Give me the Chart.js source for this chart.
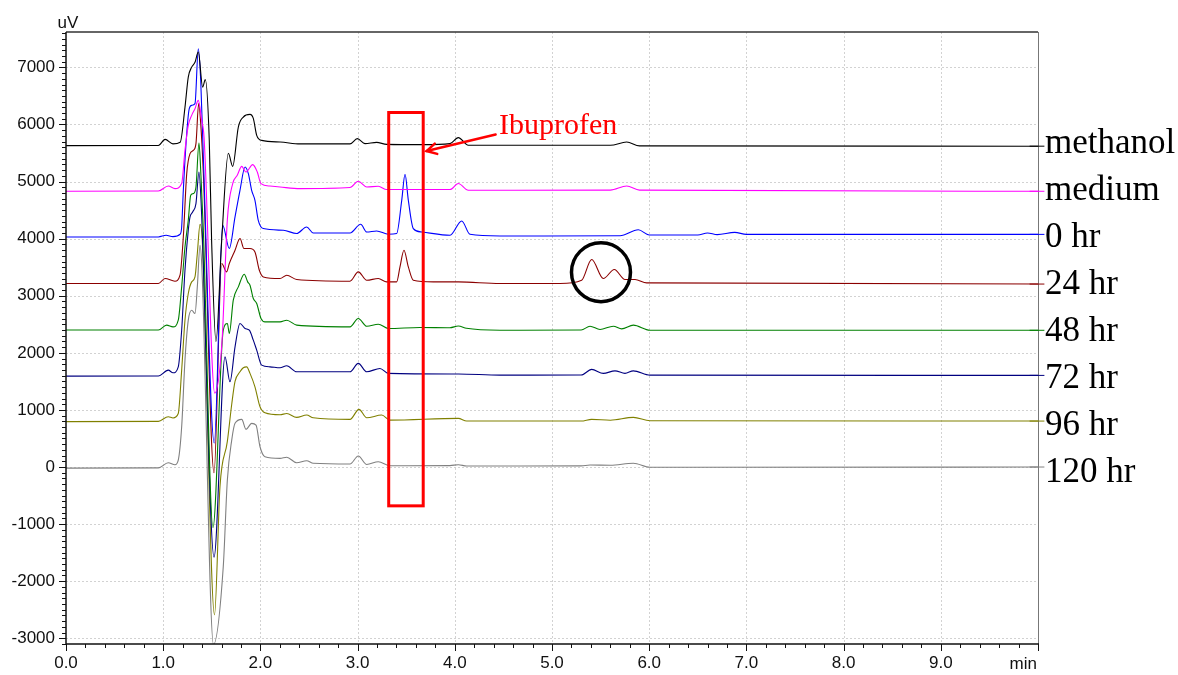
<!DOCTYPE html>
<html><head><meta charset="utf-8">
<script src="https://cdn.jsdelivr.net/npm/chart.js@4.4.1/dist/chart.umd.min.js"></script>
<style>html,body{margin:0;padding:0;background:#fff;}canvas{display:block;}</style>
</head><body>
<canvas id="c" width="1178" height="675"></canvas>
<script>
// ---- Data: [retention time (min), signal (uV, offset as plotted)] ----
const methanol = [[0,5630],[0.95,5632],[1.02,5740],[1.10,5660],[1.175,5690],[1.224,6300],[1.258,6830],[1.293,7005],[1.327,7090],[1.361,7270],[1.406,6655],[1.433,6785],[1.474,5720],[1.498,3972],[1.543,2200],[1.602,3972],[1.670,5495],[1.715,5267],[1.773,5955],[1.824,6130],[1.893,6177],[1.927,6107],[1.962,5810],[2.013,5722],[2.202,5693],[2.407,5660],[2.922,5660],[2.997,5752],[3.076,5665],[3.196,5687],[3.299,5652],[3.676,5647],[3.951,5665],[4.036,5770],[4.139,5635],[5.60,5635],[5.768,5693],[5.90,5625],[10,5620]];
const medium = [[0,4830],[0.95,4835],[1.052,4922],[1.121,4877],[1.19,4965],[1.224,5547],[1.258,5985],[1.293,6160],[1.327,6277],[1.361,6422],[1.396,6072],[1.420,5780],[1.53,1295],[1.605,2200],[1.660,4330],[1.715,4965],[1.762,5110],[1.808,5267],[1.852,5168],[1.921,5297],[1.968,5168],[2.006,4965],[2.099,4922],[2.202,4905],[2.407,4877],[2.922,4895],[3.007,5005],[3.094,4905],[3.213,4917],[3.299,4860],[3.951,4860],[4.036,4965],[4.139,4847],[5.60,4850],[5.768,4922],[5.90,4850],[10,4830]];
const hr0 = [[0,4030],[0.95,4030],[1.03,4060],[1.10,4035],[1.175,4080],[1.19,4205],[1.207,4847],[1.242,5840],[1.268,6277],[1.293,6335],[1.327,6365],[1.361,7327],[1.386,6772],[1.413,5430],[1.525,420],[1.612,4235],[1.680,3827],[1.739,4380],[1.790,4847],[1.842,5255],[1.876,5140],[1.910,4847],[1.944,4672],[1.978,4322],[2.030,4177],[2.236,4147],[2.373,4090],[2.476,4205],[2.544,4100],[2.922,4100],[3.032,4252],[3.094,4117],[3.196,4135],[3.316,4077],[3.402,4090],[3.454,4672],[3.488,5127],[3.522,4672],[3.573,4177],[3.659,4117],[3.951,4060],[4.071,4310],[4.156,4077],[4.465,4047],[5.70,4050],[5.888,4155],[6.00,4065],[6.50,4065],[6.60,4100],[6.70,4070],[6.88,4110],[7.0,4075],[10,4075]];
const hr24 = [[0,3215],[0.95,3215],[1.019,3302],[1.121,3255],[1.173,3360],[1.207,4030],[1.242,5140],[1.276,5490],[1.310,5547],[1.337,5665],[1.365,6365],[1.386,6015],[1.413,5145],[1.523,-100],[1.602,3565],[1.653,3418],[1.680,3565],[1.739,3797],[1.790,4002],[1.831,3827],[1.893,3827],[1.944,3767],[1.989,3447],[2.030,3330],[2.202,3302],[2.271,3360],[2.373,3285],[2.922,3255],[3.007,3418],[3.094,3272],[3.213,3302],[3.299,3243],[3.402,3243],[3.436,3505],[3.477,3797],[3.522,3505],[3.573,3272],[3.779,3243],[4.036,3243],[4.465,3215],[5.082,3215],[5.305,3272],[5.408,3635],[5.528,3302],[5.641,3460],[5.751,3285],[5.854,3285],[5.974,3225],[10,3205]];
const hr48 = [[0,2400],[0.95,2400],[1.035,2485],[1.101,2455],[1.155,2572],[1.190,3155],[1.224,3855],[1.258,4322],[1.283,4760],[1.310,4790],[1.337,4905],[1.368,5675],[1.389,5080],[1.413,4147],[1.512,-1062],[1.618,2397],[1.660,2515],[1.680,2340],[1.721,2922],[1.773,3155],[1.834,3377],[1.869,3243],[1.893,3185],[1.927,2952],[1.962,2865],[2.006,2602],[2.047,2543],[2.202,2543],[2.271,2572],[2.373,2485],[2.922,2455],[3.007,2602],[3.094,2465],[3.213,2502],[3.316,2427],[3.642,2445],[3.95,2440],[4.036,2470],[4.12,2430],[4.465,2397],[5.30,2400],[5.391,2467],[5.494,2410],[5.631,2467],[5.717,2420],[5.837,2485],[6.008,2397],[10,2395]];
const hr72 = [[0,1592],[0.95,1595],[1.052,1697],[1.101,1650],[1.155,1755],[1.190,2397],[1.224,3447],[1.258,4147],[1.276,4380],[1.303,4467],[1.337,4615],[1.368,5168],[1.389,4672],[1.523,-1580],[1.636,1930],[1.687,1493],[1.739,2105],[1.790,2515],[1.842,2427],[1.886,2397],[1.927,2222],[1.962,2047],[2.013,1785],[2.099,1755],[2.202,1738],[2.271,1773],[2.373,1668],[2.922,1668],[3.007,1815],[3.094,1668],[3.230,1727],[3.316,1640],[4.036,1630],[4.465,1610],[5.30,1612],[5.408,1710],[5.528,1640],[5.648,1685],[5.751,1640],[5.837,1685],[6.008,1610],[10,1605]];
const hr96 = [[0,795],[0.95,800],[1.052,880],[1.101,860],[1.155,938],[1.190,1697],[1.224,2572],[1.258,3040],[1.293,3243],[1.327,3330],[1.351,3740],[1.379,4252],[1.402,3972],[1.528,-2590],[1.584,-345],[1.660,450],[1.705,1100],[1.739,1500],[1.790,1668],[1.824,1740],[1.859,1755],[1.893,1640],[1.944,1405],[1.996,1055],[2.047,950],[2.202,915],[2.271,938],[2.373,870],[2.476,910],[2.544,863],[2.922,835],[3.014,1010],[3.094,863],[3.248,910],[3.333,822],[4.036,852],[4.122,805],[4.465,805],[5.30,805],[5.408,835],[5.60,820],[5.837,870],[6.008,810],[10,805]];
const hr120 = [[0,-20],[0.95,-15],[1.052,75],[1.121,40],[1.155,122],[1.190,705],[1.224,1872],[1.258,2572],[1.293,2747],[1.327,2690],[1.351,3155],[1.379,3885],[1.399,3447],[1.517,-3110],[1.618,-1745],[1.660,-227],[1.705,472],[1.739,765],[1.808,835],[1.852,660],[1.910,765],[1.955,735],[1.996,355],[2.047,180],[2.202,152],[2.271,170],[2.373,75],[2.476,110],[2.544,65],[2.922,52],[3.007,192],[3.094,45],[3.213,93],[3.333,23],[3.95,25],[4.036,40],[4.122,17],[4.465,17],[5.30,20],[5.391,35],[5.60,30],[5.837,65],[6.008,-5],[10,0]];

const seriesData = [methanol, medium, hr0, hr24, hr48, hr72, hr96, hr120];
const seriesNames = ['methanol','medium','0 hr','24 hr','48 hr','72 hr','96 hr','120 hr'];
const seriesColors = ['#000000','#ff00ff','#0000ff','#8b0000','#008000','#000080','#808000','#808080'];
const labelLevels = [5495, 4672, 3850, 3028, 2205, 1383, 560, -262];

// axis settings / tick labels
const xMin = 0, xMax = 10, xMajor = 1, xMinor = 0.2;
const yMin = -3100, yMax = 7620, yMajor = 1000, yMinor = 100;
const yTickValues = [-3000, -2000, -1000, 0, 1000, 2000, 3000, 4000, 5000, 6000, 7000];

// annotations (data units)
const ibuBox = {t0: 3.32, t1: 3.675, v0: 6210, v1: -680};
const ibuText = {t: 4.455, v: 5828, text: 'Ibuprofen'};
const ibuArrow = {fromT: 4.42, fromV: 5825, toT: 3.71, toV: 5535};
const circleMark = {t: 5.504, v: 3412, r: 29.5};

const SANS = '"Liberation Sans", Arial, sans-serif';
const SERIF = '"Liberation Serif", "Times New Roman", serif';

const decor = {
  id: 'decor',
  beforeDatasetsDraw(chart) {
    const {ctx, chartArea: a, scales: {x, y}} = chart;
    ctx.save();
    ctx.strokeStyle = '#d2d2d2';
    ctx.lineWidth = 1;
    ctx.setLineDash([2, 2]);
    for (let t = xMin + xMajor; t < xMax; t += xMajor) {
      const px = Math.round(x.getPixelForValue(t)) + 0.5;
      ctx.beginPath(); ctx.moveTo(px, a.top); ctx.lineTo(px, a.bottom); ctx.stroke();
    }
    yTickValues.forEach(v => {
      const py = Math.round(y.getPixelForValue(v)) + 0.5;
      ctx.beginPath(); ctx.moveTo(a.left, py); ctx.lineTo(a.right, py); ctx.stroke();
    });
    ctx.restore();
  },
  afterDatasetsDraw(chart) {
    const {ctx, chartArea: a, scales: {x, y}} = chart;
    ctx.save();
    ctx.setLineDash([]);
    // frame
    ctx.strokeStyle = '#777'; ctx.lineWidth = 1;
    ctx.beginPath(); ctx.moveTo(a.right + 0.5, a.top); ctx.lineTo(a.right + 0.5, a.bottom); ctx.stroke();
    ctx.strokeStyle = '#333'; ctx.lineWidth = 1.5;
    ctx.beginPath(); ctx.moveTo(a.left, a.top); ctx.lineTo(a.right, a.top); ctx.stroke();
    ctx.strokeStyle = '#111'; ctx.lineWidth = 1.5;
    ctx.beginPath(); ctx.moveTo(a.left, a.top); ctx.lineTo(a.left, a.bottom); ctx.lineTo(a.right + 1, a.bottom); ctx.stroke();
    // ticks
    ctx.lineWidth = 1;
    for (let i = Math.ceil(yMin / yMinor); i * yMinor <= yMax; i++) {
      const v = i * yMinor;
      const py = Math.round(y.getPixelForValue(v)) + 0.5;
      const len = (v % yMajor === 0) ? 7 : 4;
      ctx.beginPath(); ctx.moveTo(a.left - len, py); ctx.lineTo(a.left, py); ctx.stroke();
    }
    for (let i = 0; i * xMinor <= xMax + 1e-9; i++) {
      const t = i * xMinor;
      const px = Math.round(x.getPixelForValue(t)) + 0.5;
      const len = (i % 5 === 0) ? 7 : 4;
      ctx.beginPath(); ctx.moveTo(px, a.bottom); ctx.lineTo(px, a.bottom + len); ctx.stroke();
    }
    // y tick labels
    ctx.fillStyle = '#111';
    ctx.font = '17px ' + SANS;
    ctx.textAlign = 'right'; ctx.textBaseline = 'middle';
    yTickValues.forEach(v => ctx.fillText(String(v), a.left - 11, y.getPixelForValue(v)));
    // axis titles
    ctx.textAlign = 'center'; ctx.textBaseline = 'alphabetic';
    ctx.fillText('uV', a.left + 2, a.top - 4);
    ctx.textAlign = 'right';
    ctx.fillText('min', a.right - 1, a.bottom + 25);

    // Ibuprofen box
    ctx.strokeStyle = '#ff0000'; ctx.lineWidth = 3;
    const bx0 = x.getPixelForValue(ibuBox.t0), bx1 = x.getPixelForValue(ibuBox.t1);
    const by0 = y.getPixelForValue(ibuBox.v0), by1 = y.getPixelForValue(ibuBox.v1);
    ctx.strokeRect(bx0, by0, bx1 - bx0, by1 - by0);
    // arrow
    const ax0 = x.getPixelForValue(ibuArrow.fromT), ay0 = y.getPixelForValue(ibuArrow.fromV);
    const ax1 = x.getPixelForValue(ibuArrow.toT), ay1 = y.getPixelForValue(ibuArrow.toV);
    ctx.lineWidth = 2.5; ctx.lineCap = 'round';
    ctx.beginPath(); ctx.moveTo(ax0, ay0); ctx.lineTo(ax1, ay1); ctx.stroke();
    const ang = Math.atan2(ay0 - ay1, ax0 - ax1);
    const hl = 11, hw = 0.5;
    ctx.beginPath();
    ctx.moveTo(ax1 + hl * Math.cos(ang - hw), ay1 + hl * Math.sin(ang - hw));
    ctx.lineTo(ax1, ay1);
    ctx.lineTo(ax1 + hl * Math.cos(ang + hw), ay1 + hl * Math.sin(ang + hw));
    ctx.stroke();
    ctx.fillStyle = '#ff0000';
    ctx.font = '30px ' + SERIF;
    ctx.textAlign = 'left'; ctx.textBaseline = 'alphabetic';
    ctx.fillText(ibuText.text, x.getPixelForValue(ibuText.t), y.getPixelForValue(ibuText.v));
    // circle
    ctx.strokeStyle = '#000'; ctx.lineWidth = 3.5;
    ctx.beginPath();
    ctx.arc(x.getPixelForValue(circleMark.t), y.getPixelForValue(circleMark.v), circleMark.r, 0, Math.PI * 2);
    ctx.stroke();

    // right labels
    ctx.font = '35px ' + SERIF;
    ctx.textAlign = 'left';
    chart.data.datasets.forEach((ds, i) => {
      const last = ds.data[ds.data.length - 1];
      const py = y.getPixelForValue(last.y);
      ctx.strokeStyle = seriesColors[i]; ctx.lineWidth = 1;
      ctx.beginPath(); ctx.moveTo(a.right - 8, py); ctx.lineTo(a.right + 6, py); ctx.stroke();
      ctx.fillStyle = '#000';
      ctx.fillText(seriesNames[i], a.right + 7, y.getPixelForValue(labelLevels[i]));
    });
    ctx.restore();
  }
};

new Chart(document.getElementById('c'), {
  type: 'line',
  data: {
    datasets: seriesData.map((d, i) => ({
      label: seriesNames[i],
      data: d.map(p => ({x: p[0], y: p[1]})),
      borderColor: seriesColors[i],
      borderWidth: 1.1,
      pointRadius: 0,
      fill: false,
      cubicInterpolationMode: 'monotone'
    }))
  },
  options: {
    responsive: false,
    animation: false,
    devicePixelRatio: 1,
    layout: {padding: {top: 32, right: 140, left: 0, bottom: 0}},
    plugins: {legend: {display: false}, tooltip: {enabled: false}},
    scales: {
      x: {
        type: 'linear', min: xMin, max: xMax,
        grid: {display: false, drawTicks: false},
        border: {display: false},
        ticks: {stepSize: xMajor, padding: 9, color: '#111', font: {family: SANS, size: 17},
                maxRotation: 0, autoSkip: false,
                callback: v => (v >= xMax ? '' : Number(v).toFixed(1))},
        afterFit: s => { s.height = 31; }
      },
      y: {
        type: 'linear', min: yMin, max: yMax,
        grid: {display: false, drawTicks: false},
        border: {display: false},
        ticks: {display: false, stepSize: yMajor},
        afterFit: s => { s.width = 66; }
      }
    }
  },
  plugins: [decor]
});
</script>
</body></html>
